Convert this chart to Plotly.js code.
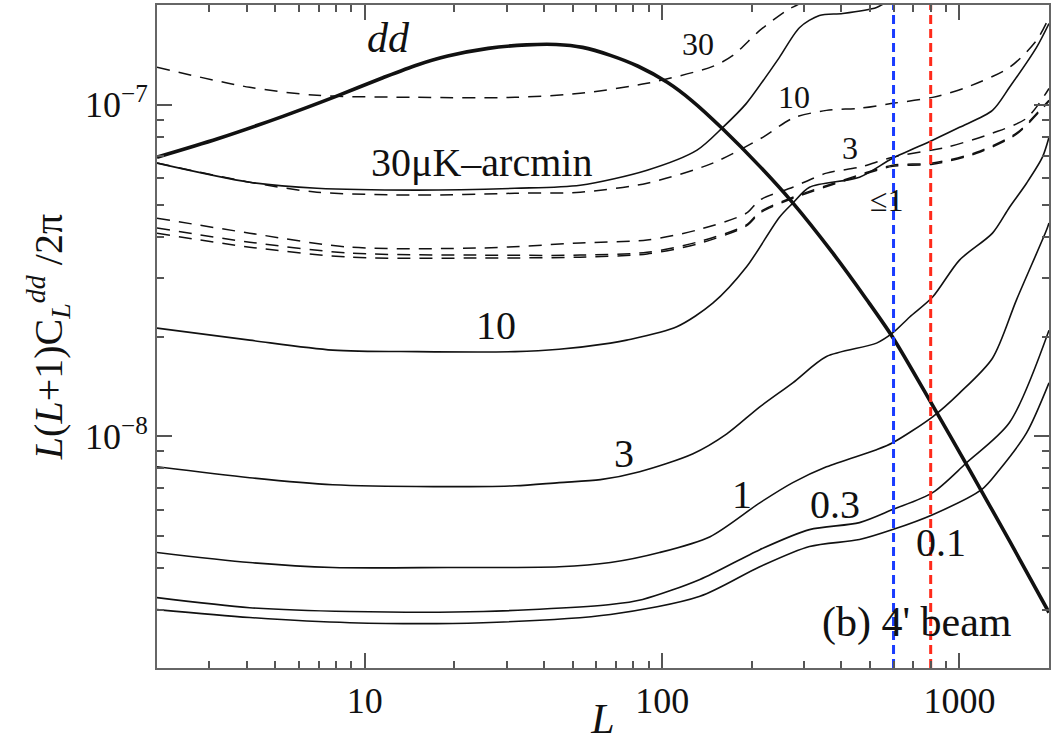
<!DOCTYPE html>
<html>
<head>
<meta charset="utf-8">
<script src="https://cdn.plot.ly/plotly-3.0.1.min.js"></script>
<style>html,body{margin:0;padding:0;background:#fff;}#chart{width:1058px;height:742px;}</style>
</head>
<body>
<div id="chart"></div>
<script>
// ---- data ----
const L_dd  = [2, 3.2, 5.3, 8, 11.5, 15, 19, 26, 35, 44, 54, 67, 83, 104, 126, 160, 213, 275, 374, 487, 596, 812, 1080, 1470, 2000];
const C_dd  = [6.95e-8, 7.90e-8, 9.23e-8, 1.06e-7, 1.207e-7, 1.319e-7, 1.403e-7, 1.48e-7, 1.516e-7, 1.52e-7, 1.49e-7, 1.41e-7, 1.307e-7, 1.169e-7, 1.028e-7, 8.45e-8, 6.52e-8, 5.06e-8, 3.58e-8, 2.587e-8, 1.99e-8, 1.24e-8, 7.93e-9, 4.85e-9, 2.94e-9];

// solid noise curves
const L_s30 = [2, 4.1, 6.9, 15, 32, 53, 89, 131, 160, 192, 235, 248, 290, 338, 405, 526, 582, 625];
const N_s30 = [6.67e-8, 5.84e-8, 5.60e-8, 5.53e-8, 5.60e-8, 5.72e-8, 6.35e-8, 7.30e-8, 8.55e-8, 1.01e-7, 1.297e-7, 1.39e-7, 1.711e-7, 1.86e-7, 1.886e-7, 1.966e-7, 2.07e-7, 2.14e-7];
const L_s10 = [2, 4.1, 7.8, 15, 32, 45, 67, 76, 112, 148, 192, 248, 275, 313, 461, 596, 812, 1000, 1291, 1473, 1816, 2000];
const N_s10 = [2.12e-8, 1.95e-8, 1.82e-8, 1.80e-8, 1.80e-8, 1.83e-8, 1.91e-8, 1.95e-8, 2.14e-8, 2.52e-8, 3.24e-8, 4.58e-8, 5.05e-8, 5.64e-8, 6.05e-8, 6.90e-8, 7.82e-8, 8.55e-8, 9.62e-8, 1.129e-7, 1.49e-7, 1.759e-7];
const L_s3  = [2, 4.1, 7.8, 17, 32, 45, 62, 84, 127, 165, 213, 275, 357, 526, 596, 680, 812, 1000, 1291, 1473, 1681, 1901, 2000];
const N_s3  = [8.09e-9, 7.50e-9, 7.14e-9, 7.05e-9, 7.09e-9, 7.25e-9, 7.40e-9, 7.82e-9, 8.86e-9, 1.017e-8, 1.227e-8, 1.45e-8, 1.74e-8, 1.91e-8, 2.05e-8, 2.29e-8, 2.63e-8, 3.40e-8, 4.10e-8, 4.91e-8, 5.80e-8, 6.95e-8, 7.98e-8];
const L_s1  = [2, 4.1, 7.8, 19, 45, 67, 98, 145, 213, 275, 357, 526, 596, 812, 1000, 1291, 1555, 1962, 2000];
const N_s1  = [4.46e-9, 4.16e-9, 4.02e-9, 4.02e-9, 4.04e-9, 4.16e-9, 4.46e-9, 4.98e-9, 6.30e-9, 7.25e-9, 8.09e-9, 9.11e-9, 9.56e-9, 1.145e-8, 1.35e-8, 1.72e-8, 2.58e-8, 4.19e-8, 4.40e-8];
const L_s03 = [2, 4.1, 8.9, 25, 67, 86, 134, 213, 313, 461, 596, 812, 1056, 1473, 2000];
const N_s03 = [3.26e-9, 3.04e-9, 2.96e-9, 2.96e-9, 3.11e-9, 3.22e-9, 3.70e-9, 4.55e-9, 5.23e-9, 5.49e-9, 6.01e-9, 6.76e-9, 8.32e-9, 1.10e-8, 2.09e-8];
const L_s01 = [2, 4.1, 8.9, 25, 67, 134, 213, 313, 461, 596, 812, 1186, 1363, 1681, 2000];
const N_s01 = [3.00e-9, 2.84e-9, 2.74e-9, 2.74e-9, 2.90e-9, 3.29e-9, 4.04e-9, 4.65e-9, 4.88e-9, 5.23e-9, 5.80e-9, 6.90e-9, 7.93e-9, 1.024e-8, 1.45e-8];

// dashed noise curves
const L_d30 = [2, 4.1, 6.9, 15, 32, 53, 89, 148, 173, 213, 262, 290, 323];
const N_d30 = [1.297e-7, 1.129e-7, 1.068e-7, 1.053e-7, 1.053e-7, 1.083e-7, 1.161e-7, 1.306e-7, 1.409e-7, 1.676e-7, 1.925e-7, 2.02e-7, 2.18e-7];
const L_d10 = [2, 4.1, 6.9, 15, 32, 53, 89, 148, 218, 275, 357, 461, 596, 812, 1056, 1473, 1816, 2000];
const N_d10 = [6.67e-8, 5.84e-8, 5.45e-8, 5.34e-8, 5.41e-8, 5.45e-8, 5.80e-8, 6.67e-8, 7.98e-8, 9.11e-8, 9.62e-8, 9.76e-8, 1.01e-7, 1.053e-7, 1.129e-7, 1.297e-7, 1.564e-7, 1.834e-7];
const L_d3  = [2, 4.1, 8.9, 25, 53, 89, 131, 192, 213, 275, 357, 461, 596, 905, 1291, 1681, 2000];
const N_d3  = [4.55e-8, 4.10e-8, 3.72e-8, 3.70e-8, 3.83e-8, 3.91e-8, 4.19e-8, 4.71e-8, 5.16e-8, 5.64e-8, 6.22e-8, 6.48e-8, 6.95e-8, 7.45e-8, 8.21e-8, 9.11e-8, 1.12e-7];
const L_d1  = [2, 4.1, 8.9, 25, 53, 89, 131, 192, 213, 275, 405, 596, 812, 1141, 1555, 1901, 2000];
const N_d1  = [4.25e-8, 3.85e-8, 3.57e-8, 3.52e-8, 3.52e-8, 3.59e-8, 3.85e-8, 4.34e-8, 4.75e-8, 5.26e-8, 5.92e-8, 6.57e-8, 6.67e-8, 7.19e-8, 8.21e-8, 9.83e-8, 1.032e-7];
const L_d03 = [2, 4.1, 8.9, 25, 53, 89, 131, 192, 213, 275, 405, 596, 812, 1141, 1555, 1901, 2000];
const N_d03 = [4.10e-8, 3.72e-8, 3.47e-8, 3.45e-8, 3.47e-8, 3.55e-8, 3.80e-8, 4.31e-8, 4.71e-8, 5.22e-8, 5.88e-8, 6.52e-8, 6.62e-8, 7.14e-8, 8.15e-8, 9.75e-8, 1.025e-7];

// beam-scale markers
const L_blue = [600, 600];
const L_red  = [800, 800];
const Y_span = [2e-9, 2e-7];

// axis ticks
const xMajor = [10, 100, 1000];
const xMajorText = ['10', '100', '1000'];
const xMinor = [3,4,5,6,7,8,9,20,30,40,50,60,70,80,90,200,300,400,500,600,700,800,900];
const yMajor = [1e-8, 1e-7];
const yMajorText = ['10<sup>−8</sup>', '10<sup>−7</sup>'];
const yMinor = [3e-9,4e-9,5e-9,6e-9,7e-9,8e-9,9e-9,2e-8,3e-8,4e-8,5e-8,6e-8,7e-8,8e-8,9e-8];

// curve labels
const labelText = ['<i>dd</i>', '30μK–arcmin', '10', '3', '1', '0.3', '0.1', '(b) 4\' beam', '30', '10', '3', '≤1'];

// ---- traces ----
const FONT = '"Liberation Serif", "Times New Roman", Times, serif';
function solid(x, y, w) {
  return {x: x, y: y, type: 'scatter', mode: 'lines', showlegend: false, hoverinfo: 'skip',
          line: {color: '#111', width: w || 1.6, shape: 'spline', smoothing: 0.8}};
}
function dashed(x, y) {
  return {x: x, y: y, type: 'scatter', mode: 'lines', showlegend: false, hoverinfo: 'skip',
          line: {color: '#111', width: 1.5, dash: '13px,9px', shape: 'spline', smoothing: 0.8}};
}
const traces = [
  dashed(L_d30, N_d30), dashed(L_d10, N_d10), dashed(L_d3, N_d3), dashed(L_d1, N_d1), dashed(L_d03, N_d03),
  solid(L_s30, N_s30), solid(L_s10, N_s10), solid(L_s3, N_s3), solid(L_s1, N_s1), solid(L_s03, N_s03), solid(L_s01, N_s01),
  solid(L_dd, C_dd, 3.6),
  {x: L_blue, y: Y_span, type: 'scatter', mode: 'lines', showlegend: false, hoverinfo: 'skip',
   line: {color: '#1a3cff', width: 3, dash: '9px,5px'}},
  {x: L_red, y: Y_span, type: 'scatter', mode: 'lines', showlegend: false, hoverinfo: 'skip',
   line: {color: '#ff2a1a', width: 3, dash: '9px,5px'}}
];

// label placements (paper coords) and sizes
const labelPos = [[0.259,0.950,42],[0.364,0.762,40],[0.380,0.517,40],[0.524,0.323,40],[0.656,0.262,40],
                  [0.760,0.247,40],[0.879,0.189,40],[0.852,0.069,42],[0.607,0.941,32],[0.714,0.861,32],
                  [0.777,0.784,32],[0.818,0.706,32]];
const annotations = labelText.map((t, i) => ({
  text: t, xref: 'paper', yref: 'paper', x: labelPos[i][0], y: labelPos[i][1],
  xanchor: 'center', yanchor: 'middle', showarrow: false,
  font: {family: FONT, size: labelPos[i][2], color: '#111'}
}));

const axisCommon = {
  type: 'log', showgrid: false, zeroline: false,
  showline: true, linecolor: '#666', linewidth: 2, mirror: 'allticks',
  ticks: 'inside', ticklen: 15, tickwidth: 2, tickcolor: '#555',
  tickfont: {family: FONT, size: 36, color: '#111'}
};

const layout = {
  width: 1058, height: 742,
  margin: {l: 157, r: 9, t: 5, b: 74},
  paper_bgcolor: '#fff', plot_bgcolor: '#fff',
  showlegend: false,
  font: {family: FONT, color: '#111'},
  xaxis: Object.assign({}, axisCommon, {
    range: [Math.log10(2), Math.log10(2000)],
    tickmode: 'array', tickvals: xMajor, ticktext: xMajorText,
    minor: {tickmode: 'array', tickvals: xMinor, ticks: 'inside', ticklen: 7, tickwidth: 2, tickcolor: '#555', showgrid: false},
    title: {text: '<i>L</i>', font: {family: FONT, size: 42, color: '#111'}, standoff: 0}
  }),
  yaxis: Object.assign({}, axisCommon, {
    range: [Math.log10(2e-9), Math.log10(2e-7)],
    tickmode: 'array', tickvals: yMajor, ticktext: yMajorText,
    minor: {tickmode: 'array', tickvals: yMinor, ticks: 'inside', ticklen: 7, tickwidth: 2, tickcolor: '#555', showgrid: false},
    title: {text: '<i>L</i>(<i>L</i>+1)C<sub><i>L</i></sub><sup><i>dd</i></sup> /2π', font: {family: FONT, size: 40, color: '#111'}, standoff: 10}
  }),
  annotations: annotations
};

Plotly.newPlot('chart', traces, layout, {staticPlot: true, displayModeBar: false});
</script>
</body>
</html>
